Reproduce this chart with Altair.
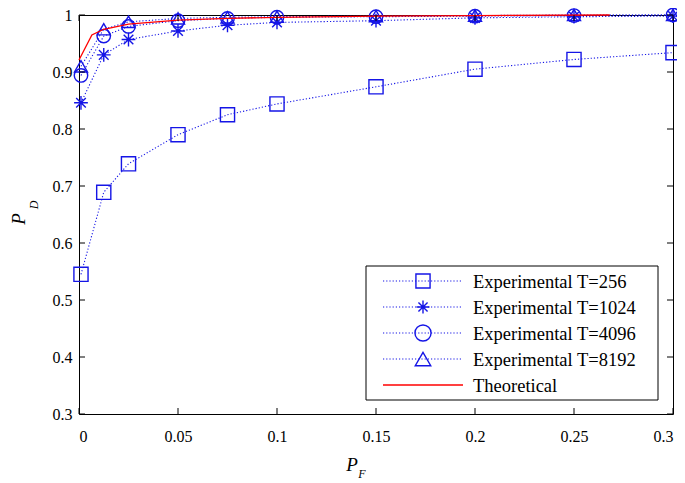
import altair as alt
import pandas as pd

# ---- data ----
pf = [0.001, 0.0125, 0.025, 0.05, 0.075, 0.1, 0.15, 0.2, 0.25, 0.3]
pd_256 = [0.545, 0.689, 0.739, 0.790, 0.825, 0.844, 0.874, 0.905, 0.922, 0.934]
pd_1024 = [0.846, 0.930, 0.957, 0.972, 0.982, 0.987, 0.990, 0.995, 0.997, 0.998]
pd_4096 = [0.894, 0.963, 0.980, 0.990, 0.994, 0.996, 0.997, 0.998, 0.999, 1.0]
pd_8192 = [0.910, 0.975, 0.988, 0.994, 0.996, 0.997, 0.998, 0.999, 1.0, 1.0]
th_pf = [0.0, 0.0065, 0.0125, 0.025, 0.05, 0.075, 0.1, 0.15, 0.2, 0.268]
th_pd = [0.921, 0.965, 0.975, 0.984, 0.991, 0.994, 0.996, 0.998, 0.999, 1.0]

series_names = ["Experimental T=256", "Experimental T=1024",
                "Experimental T=4096", "Experimental T=8192"]
series_vals = [pd_256, pd_1024, pd_4096, pd_8192]
theory_name = "Theoretical"

x_ticks = [0, 0.05, 0.1, 0.15, 0.2, 0.25, 0.3]
y_ticks = [0.3, 0.4, 0.5, 0.6, 0.7, 0.8, 0.9, 1.0]

# ---- styling ----
W, H = 594, 399
TOP = 7
BLUE = "#1515e6"
RED = "#ff0000"
FONT = "Liberation Serif, Times New Roman, serif"
STAR = "M0,-1L0,1M-1,0L1,0M-0.7,-0.7L0.7,0.7M-0.7,0.7L0.7,-0.7"
shapes = ["square", STAR, "circle", "triangle-up"]
sizes = [200, 170, 260, 240]

rows = []
for name, vals in zip(series_names, series_vals):
    for x, y in zip(pf, vals):
        rows.append({"series": name, "pf": x, "pd": y})
df = pd.DataFrame(rows)
th = pd.DataFrame({"pf": th_pf, "pd": th_pd})

xscale = alt.Scale(domain=[0, 0.3], nice=False, zero=False)
yscale = alt.Scale(domain=[0.3, 1.0], nice=False, zero=False)
xaxis = alt.Axis(values=x_ticks, format="~g", title=None, labelPadding=14)
yaxis = alt.Axis(values=y_ticks, format="~g", title=None, labelPadding=7)

X = lambda f: alt.X(f, scale=xscale, axis=xaxis)
Y = lambda f: alt.Y(f, scale=yscale, axis=yaxis)

lines = alt.Chart(df).mark_line(strokeDash=[1.2, 2], strokeWidth=1.1, color=BLUE).encode(
    x=X("pf:Q"), y=Y("pd:Q"), detail="series:N"
)
points = alt.Chart(df).mark_point(filled=False, strokeWidth=1.4, color=BLUE, opacity=1).encode(
    x=X("pf:Q"), y=Y("pd:Q"),
    shape=alt.Shape("series:N", scale=alt.Scale(domain=series_names, range=shapes), legend=None),
    size=alt.Size("series:N", scale=alt.Scale(domain=series_names, range=sizes), legend=None),
)
theory = alt.Chart(th).mark_line(color=RED, strokeWidth=1.3).encode(x=X("pf:Q"), y=Y("pd:Q"))

xt = pd.DataFrame({"v": x_ticks})
yt = pd.DataFrame({"v": y_ticks})
TL = 6
tick_layers = [
    alt.Chart(xt).mark_rule(color="black").encode(x=X("v:Q"), y=alt.value(H), y2=alt.value(H - TL)),
    alt.Chart(xt).mark_rule(color="black").encode(x=X("v:Q"), y=alt.value(0), y2=alt.value(TL)),
    alt.Chart(yt).mark_rule(color="black").encode(y=Y("v:Q"), x=alt.value(0), x2=alt.value(TL)),
    alt.Chart(yt).mark_rule(color="black").encode(y=Y("v:Q"), x=alt.value(W), x2=alt.value(W - TL)),
]

# ---- legend ----
LX0, LX1, LY0, LY1 = 287, 579, 251, 385
row0, step = 266, 26
line_x0, line_x1, mark_x, text_x = 304, 384, 344, 394
one = pd.DataFrame({"a": [0]})
legend_layers = [
    alt.Chart(one).mark_rect(fill="white", stroke="black", strokeWidth=1).encode(
        x=alt.value(LX0), x2=alt.value(LX1), y=alt.value(LY0), y2=alt.value(LY1))
]
for i, name in enumerate(series_names + [theory_name]):
    yy = row0 + i * step
    lab = pd.DataFrame({"label": [name]})
    if i < 4:
        legend_layers.append(alt.Chart(lab).mark_rule(color=BLUE, strokeDash=[1.2, 2], strokeWidth=1.1).encode(
            x=alt.value(line_x0), x2=alt.value(line_x1), y=alt.value(yy)))
        legend_layers.append(alt.Chart(lab).mark_point(
            filled=False, shape=shapes[i], size=sizes[i], strokeWidth=1.4, color=BLUE, opacity=1).encode(
            x=alt.value(mark_x), y=alt.value(yy)))
    else:
        legend_layers.append(alt.Chart(lab).mark_rule(color=RED, strokeWidth=1.3).encode(
            x=alt.value(line_x0), x2=alt.value(line_x1), y=alt.value(yy)))
    legend_layers.append(alt.Chart(lab).mark_text(
        align="left", baseline="middle", font=FONT, fontSize=18.5, color="black").encode(
        x=alt.value(text_x), y=alt.value(yy + 1), text="label:N"))

# ---- axis titles (P with subscript) ----
titles = [
    alt.Chart(one).mark_text(text="P", font=FONT, fontStyle="italic", fontSize=19,
                             baseline="middle", align="center", color="black").encode(
        x=alt.value(273), y=alt.value(450)),
    alt.Chart(one).mark_text(text="F", font=FONT, fontStyle="italic", fontSize=12,
                             baseline="middle", align="center", color="black").encode(
        x=alt.value(283), y=alt.value(459)),
    alt.Chart(one).mark_text(text="P", font=FONT, fontStyle="italic", fontSize=19, angle=270,
                             baseline="middle", align="center", color="black").encode(
        x=alt.value(-60), y=alt.value(204)),
    alt.Chart(one).mark_text(text="D", font=FONT, fontStyle="italic", fontSize=12, angle=270,
                             baseline="middle", align="center", color="black").encode(
        x=alt.value(-45), y=alt.value(190)),
]

chart = alt.layer(lines, points, theory, *tick_layers, *legend_layers, *titles).properties(
    width=W, height=H,
    autosize=alt.AutoSizeParams(type="none"),
    padding={"left": 71, "top": TOP, "right": 4, "bottom": 70},
).configure_view(stroke="black", strokeWidth=1).configure_axis(
    domain=False, ticks=False, grid=False,
    labelFont=FONT, labelFontSize=16, labelColor="black",
)

chart.save("out.html", embed_options={"renderer": "svg", "actions": False})
